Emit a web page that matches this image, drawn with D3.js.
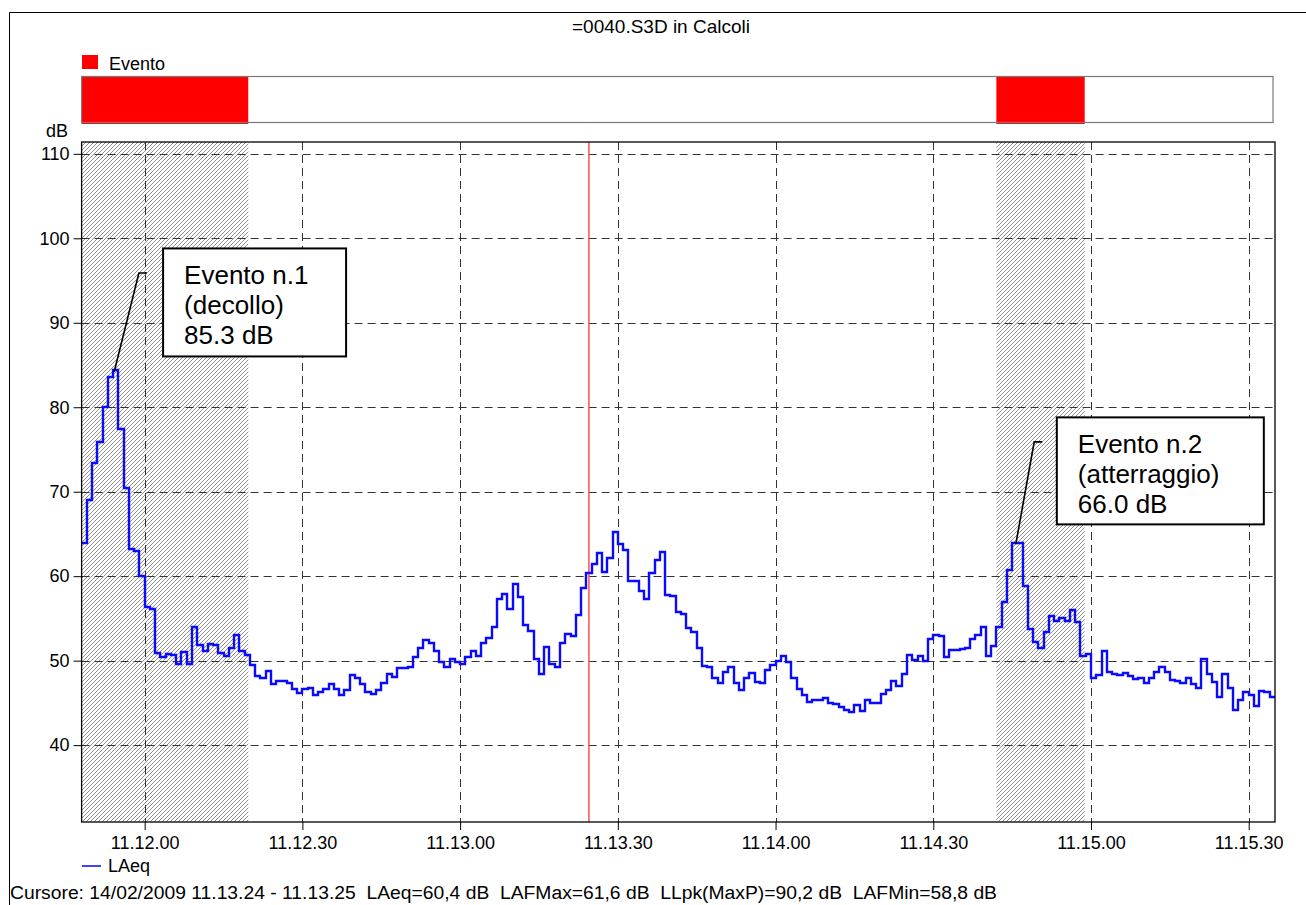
<!DOCTYPE html>
<html>
<head>
<meta charset="utf-8">
<script src="https://cdn.jsdelivr.net/npm/d3@7"></script>
<style>
  body { margin: 0; background: #fff; }
  svg { display: block; }
  text { font-family: "Liberation Sans", Arial, Helvetica, sans-serif; fill: #000; }
</style>
</head>
<body>
<svg id="chart" width="1306" height="905"></svg>
<script>
// ---- data -------------------------------------------------------------
const chartTitle = "=0040.S3D in Calcoli";
const eventLegend = "Evento";
const seriesName = "LAeq";

// one LAeq value per second; first sample is 11.11.48 (12 s before 11.12.00)
const firstSecond = -12;
const lastSecond = 215;
const laeq = [
  63.9, 69.0, 73.4, 75.9, 80.0, 83.6, 84.4, 77.4, 70.4, 63.2, 63.0, 60.0,
  56.3, 56.1, 50.9, 50.4, 50.8, 50.7, 49.6, 51.0, 49.6, 54.0, 51.8, 51.2,
  52.0, 51.9, 50.9, 50.5, 51.5, 53.0, 51.1, 50.7, 49.5, 48.2, 47.9, 48.8,
  47.2, 47.6, 47.6, 47.3, 46.7, 46.2, 46.6, 46.8, 45.9, 46.3, 46.6, 47.2,
  46.7, 45.9, 46.5, 48.3, 48.0, 47.2, 46.3, 46.1, 46.5, 47.4, 48.4, 48.1,
  49.1, 49.1, 49.3, 50.4, 51.5, 52.4, 52.1, 51.1, 49.9, 49.2, 50.2, 49.9,
  49.6, 50.4, 51.1, 50.5, 52.1, 52.7, 54.0, 57.3, 57.9, 56.1, 59.1, 57.5,
  54.2, 53.5, 50.2, 48.4, 51.6, 49.6, 49.2, 52.1, 53.1, 52.9, 55.4, 58.6,
  60.4, 61.5, 62.7, 60.5, 62.1, 65.2, 63.8, 63.1, 59.4, 59.4, 58.2, 57.3,
  60.4, 61.9, 62.9, 57.8, 57.6, 55.8, 55.5, 53.9, 53.4, 51.5, 49.4, 49.3,
  48.0, 47.4, 48.7, 49.3, 47.4, 46.5, 47.9, 48.5, 47.5, 47.4, 48.9, 49.5,
  50.0, 50.6, 49.9, 48.0, 46.6, 45.9, 45.1, 45.4, 45.4, 45.6, 45.0, 44.9,
  44.5, 44.2, 43.9, 44.8, 44.0, 45.4, 45.0, 45.0, 46.0, 46.5, 47.6, 47.0,
  48.4, 50.7, 50.1, 50.6, 50.0, 52.6, 53.0, 52.9, 50.4, 51.3, 51.3, 51.4,
  51.5, 52.6, 53.0, 54.0, 50.5, 51.7, 54.0, 56.9, 60.7, 63.9, 63.9, 58.8,
  53.8, 52.2, 51.5, 53.4, 55.3, 54.7, 55.1, 54.7, 56.0, 54.6, 50.5, 50.8,
  48.0, 48.3, 51.2, 48.6, 48.4, 48.3, 48.5, 48.2, 47.8, 48.0, 47.3, 48.0,
  48.6, 49.2, 48.6, 47.7, 47.6, 47.4, 47.9, 47.2, 46.8, 50.2, 48.4, 47.5,
  45.7, 48.4, 46.8, 44.2, 45.4, 46.3, 45.9, 44.6, 46.4, 46.3, 45.7
];

const xTickSeconds = [0, 30, 60, 90, 120, 150, 180, 210];
const xTickLabels = ["11.12.00", "11.12.30", "11.13.00", "11.13.30",
                     "11.14.00", "11.14.30", "11.15.00", "11.15.30"];
const yTicks = [40, 50, 60, 70, 80, 90, 100, 110];
const yUnit = "dB";

// marked events (seconds from 11.12.00)
const eventStarts = [-12, 162];
const eventEnds = [19.7, 178.8];

// cursor 11.13.24 - 11.13.25
const cursorSecond = 84.5;
const cursorText = "Cursore: 14/02/2009 11.13.24 - 11.13.25  LAeq=60,4 dB  LAFMax=61,6 dB  LLpk(MaxP)=90,2 dB  LAFMin=58,8 dB";

// callouts: leader from the peak, elbow, then the text box
const calloutLines = [
  ["Evento n.1", "(decollo)", "85.3 dB"],
  ["Evento n.2", "(atterraggio)", "66.0 dB"]
];
const calloutPeak = [[-5.8, 84.2], [165.7, 63.8]];
const calloutElbow = [[-1.1, 95.9], [169.2, 75.9]];
const calloutBox = [[3.5, 98.8], [173.5, 78.8]];
const calloutSize = [[183, 108], [207, 107]];

// ---- layout -----------------------------------------------------------
const svg = d3.select("#chart");
const plot = { left: 81.6, right: 1275, top: 142, bottom: 822 };
const FONT = "Liberation Sans, Arial, sans-serif";

const x = d3.scaleLinear().domain([firstSecond, lastSecond]).range([plot.left, plot.right]);
const y = d3.scaleLinear().domain([30.9, 111.4]).range([plot.bottom, plot.top]);

// outer frame (top and left edges visible)
svg.append("path")
  .attr("d", `M9.5,905 V12.5 H1306`)
  .attr("fill", "none").attr("stroke", "#000").attr("stroke-width", 1);

svg.append("text")
  .attr("x", 661).attr("y", 33)
  .attr("text-anchor", "middle").attr("font-size", 19)
  .text(chartTitle);

// hatch pattern for event bands
const defs = svg.append("defs");
const pat = defs.append("pattern")
  .attr("id", "hatch").attr("patternUnits", "userSpaceOnUse")
  .attr("width", 4).attr("height", 4);
pat.append("rect").attr("width", 4).attr("height", 4).attr("fill", "#fff");
pat.append("path")
  .attr("d", "M-1,1 L1,-1 M0,4 L4,0 M3,5 L5,3")
  .attr("stroke", "#6a6a6a").attr("stroke-width", 0.75);

// ---- event strip --------------------------------------------------------
svg.append("rect")
  .attr("x", 82).attr("y", 55).attr("width", 16).attr("height", 14)
  .attr("fill", "#ff0000");
svg.append("text")
  .attr("x", 109).attr("y", 70).attr("font-size", 18)
  .text(eventLegend);

const strip = { top: 76.5, bottom: 122.5 };
svg.selectAll("rect.evbar")
  .data(eventStarts)
  .enter().append("rect")
  .attr("class", "evbar")
  .attr("x", (d) => x(d))
  .attr("y", strip.top)
  .attr("width", (d, i) => x(eventEnds[i]) - x(d))
  .attr("height", strip.bottom - strip.top + 1.5)
  .attr("fill", "#ff0000");
svg.append("rect")
  .attr("x", plot.left).attr("y", strip.top)
  .attr("width", plot.right - plot.left - 2).attr("height", strip.bottom - strip.top)
  .attr("fill", "none").attr("stroke", "#7a7a7a").attr("stroke-width", 1.2);

// ---- plot ---------------------------------------------------------------
svg.selectAll("rect.band")
  .data(eventStarts)
  .enter().append("rect")
  .attr("class", "band")
  .attr("x", (d) => x(d))
  .attr("y", plot.top)
  .attr("width", (d, i) => x(eventEnds[i]) - x(d))
  .attr("height", plot.bottom - plot.top)
  .attr("fill", "url(#hatch)");

const grid = svg.append("g").attr("stroke", "#333").attr("stroke-width", 1)
  .attr("stroke-dasharray", "8,5");
grid.selectAll("line.h").data(yTicks).enter().append("line")
  .attr("x1", plot.left).attr("x2", plot.right)
  .attr("y1", (d) => Math.round(y(d)) + 0.5).attr("y2", (d) => Math.round(y(d)) + 0.5);
grid.selectAll("line.v").data(xTickSeconds).enter().append("line")
  .attr("y1", plot.top).attr("y2", plot.bottom)
  .attr("x1", (d) => Math.round(x(d)) + 0.5).attr("x2", (d) => Math.round(x(d)) + 0.5);

// axes
const yAxis = d3.axisLeft(y).tickValues(yTicks).tickSize(8).tickPadding(4);
const gy = svg.append("g").attr("transform", `translate(${plot.left},0)`).call(yAxis);
gy.select(".domain").remove();
gy.selectAll("text").attr("font-size", 18).attr("font-family", FONT).attr("fill", "#000");
gy.selectAll("line").attr("stroke", "#000");

const xAxis = d3.axisBottom(x).tickValues(xTickSeconds)
  .tickFormat((d, i) => xTickLabels[i]).tickSize(8).tickPadding(6);
const gx = svg.append("g").attr("transform", `translate(0,${plot.bottom})`).call(xAxis);
gx.select(".domain").remove();
gx.selectAll("text").attr("font-size", 18).attr("font-family", FONT).attr("fill", "#000");
gx.selectAll("line").attr("stroke", "#000");

svg.append("text")
  .attr("x", 68).attr("y", 137).attr("text-anchor", "end").attr("font-size", 18)
  .text(yUnit);

// cursor
svg.append("line")
  .attr("x1", x(cursorSecond)).attr("x2", x(cursorSecond))
  .attr("y1", plot.top).attr("y2", plot.bottom)
  .attr("stroke", "#ff5050").attr("stroke-width", 1.5);

// LAeq step line
const pts = laeq.map((v, i) => [firstSecond + i, v]);
pts.push([lastSecond, laeq[laeq.length - 1]]);
const stepLine = d3.line()
  .x((d) => Math.round(x(d[0])))
  .y((d) => Math.round(y(d[1])))
  .curve(d3.curveStepAfter);
svg.append("path")
  .attr("d", stepLine(pts))
  .attr("fill", "none").attr("stroke", "#0a0aff").attr("stroke-width", 2.4)
  .attr("stroke-linejoin", "miter");

// plot frame
svg.append("rect")
  .attr("x", plot.left).attr("y", plot.top)
  .attr("width", plot.right - plot.left).attr("height", plot.bottom - plot.top)
  .attr("fill", "none").attr("stroke", "#000").attr("stroke-width", 1.3);

// callouts
calloutLines.forEach((lines, i) => {
  const [pt, pv] = calloutPeak[i];
  const [et, ev] = calloutElbow[i];
  svg.append("path")
    .attr("d", `M${x(pt)},${y(pv)} L${x(et)},${y(ev)} h8`)
    .attr("fill", "none").attr("stroke", "#000").attr("stroke-width", 1.6);
  const bx = x(calloutBox[i][0]), by = y(calloutBox[i][1]);
  const [bw, bh] = calloutSize[i];
  svg.append("rect")
    .attr("x", bx).attr("y", by).attr("width", bw).attr("height", bh)
    .attr("fill", "#fff").attr("stroke", "#000").attr("stroke-width", 2);
  svg.append("g").selectAll("text").data(lines).enter().append("text")
    .attr("x", bx + 21).attr("y", (d, k) => by + 36 + k * 30)
    .attr("font-size", 26)
    .text((d) => d);
});

// legend for the series
svg.append("line")
  .attr("x1", 82).attr("x2", 101).attr("y1", 866).attr("y2", 866)
  .attr("stroke", "#0000ff").attr("stroke-width", 1.5);
svg.append("text")
  .attr("x", 108).attr("y", 872).attr("font-size", 18)
  .text(seriesName);

svg.append("text")
  .attr("x", 10).attr("y", 899).attr("font-size", 18)
  .attr("xml:space", "preserve").style("white-space", "pre")
  .attr("textLength", 987).attr("lengthAdjust", "spacingAndGlyphs")
  .text(cursorText);
</script>
</body>
</html>
